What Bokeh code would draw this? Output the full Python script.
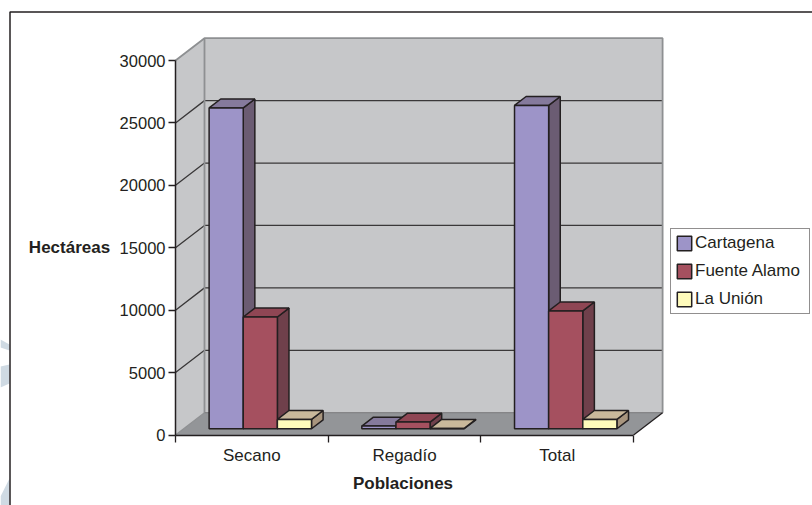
from bokeh.plotting import figure
from bokeh.models import Range1d, FixedTicker, Label, LinearAxis, Legend, LegendItem
from bokeh.embed import file_html
from bokeh.resources import INLINE

categories = ["Secano", "Regadío", "Total"]
series_names = ["Cartagena", "Fuente Alamo", "La Unión"]
cartagena = [25700, 215, 25900]
fuente_alamo = [8950, 535, 9440]
la_union = [750, 30, 750]
y_ticks = [0, 5000, 10000, 15000, 20000, 25000, 30000]
series_values = [cartagena, fuente_alamo, la_union]

face = ["#9D94C8", "#A5505F", "#FFFBBB"]
side = ["#6B5C73", "#6F404B", "#A8957E"]
top = ["#857A9C", "#8F4654", "#C9B89B"]
INK = "#231F20"
WALL = "#C6C7C9"
FLOOR = "#939598"
EDGE = "#8E9092"
WATERMARK = "#CFDAE3"
FONT = "Liberation Sans"

PX_Y = 30000 / 374.5   # value units per pixel
PX_X = 1 / 152.7       # category units per pixel
ORIGIN_X, ORIGIN_Y = 175, 434.5

def dx(px):
    return (px - ORIGIN_X) * PX_X

def dy(py):
    return (ORIGIN_Y - py) * PX_Y

DX, DY = 29 * PX_X, 22.3 * PX_Y   # full depth of the 3-D box
BAR_Z0, BAR_Z = 0.28, 0.40        # where the bars start in depth and how deep they are
GROUP_OFF, BAR_W = 0.167, 0.2235
X_MAX, Y_MAX = 3, 30000

p = figure(width=812, height=505, output_backend="svg", toolbar_location=None,
           x_range=Range1d(dx(0), dx(812)), y_range=Range1d(dy(505), dy(0)),
           x_axis_location=None, y_axis_location=None,
           min_border=0, background_fill_color="white", border_fill_color="white", outline_line_color=None)
p.grid.visible = False

# pale page decoration showing at the left edge, outside the chart frame
for wx, wy in [([0, 9, 9, 0], [339, 344, 350, 347]),
               ([0, 9, 9, 0], [366, 364, 383, 387]),
               ([0, 9, 9, 0], [496, 478, 505, 505])]:
    p.patch([dx(a) for a in wx], [dy(b) for b in wy], fill_color=WATERMARK, line_color=None)

# box walls and floor
p.patch([0, 0, DX, DX], [0, Y_MAX, Y_MAX + DY, DY], fill_color=WALL, line_color=None)
p.patch([DX, DX, X_MAX + DX, X_MAX + DX], [DY, Y_MAX + DY, Y_MAX + DY, DY], fill_color=WALL, line_color=None)
p.patch([0, DX, X_MAX + DX, X_MAX], [0, DY, DY, 0], fill_color=FLOOR, line_color=None)

# gridlines running across the side wall and the back wall
for t in y_ticks[1:-1]:
    p.line([0, DX, X_MAX + DX], [t, t + DY, t + DY], line_color="#3A3839", line_width=1.3)
# wall edges
p.line([0, DX, X_MAX + DX, X_MAX + DX], [Y_MAX, Y_MAX + DY, Y_MAX + DY, DY], line_color=EDGE, line_width=1.8)
p.line([DX, DX], [DY, Y_MAX + DY], line_color=EDGE, line_width=1.8)
p.line([0, DX], [0, DY], line_color=EDGE, line_width=1.2)
p.line([DX, X_MAX + DX], [DY, DY], line_color="#777779", line_width=1)
p.line([X_MAX, X_MAX + DX], [0, DY], line_color=INK, line_width=1.3)

# bars
legend_renderers = [None, None, None]
bx, by = DX * BAR_Z, DY * BAR_Z
zx, zy = DX * BAR_Z0, DY * BAR_Z0
for c in range(len(categories)):
    for s, vals in enumerate(series_values):
        v = vals[c]
        x0 = c + GROUP_OFF + s * BAR_W + zx
        x1 = x0 + BAR_W
        y0 = zy
        y1 = zy + v
        p.patch([x1, x1 + bx, x1 + bx, x1], [y0, y0 + by, y1 + by, y1],
                fill_color=side[s], line_color=INK, line_width=1.5)
        p.patch([x0, x0 + bx, x1 + bx, x1], [y1, y1 + by, y1 + by, y1],
                fill_color=top[s], line_color=INK, line_width=1.5)
        r = p.quad(left=[x0], right=[x1], bottom=[y0], top=[y1],
                   fill_color=face[s], line_color=INK, line_width=1.5)
        legend_renderers[s] = r

# axes, pinned at the data origin of the box
yax = LinearAxis(fixed_location=0)
yax.ticker = FixedTicker(ticks=y_ticks)
yax.bounds = (0, Y_MAX)
yax.axis_line_color = INK
yax.axis_line_width = 1.5
yax.major_tick_line_color = INK
yax.major_tick_line_width = 1.3
yax.major_tick_in = 0
yax.major_tick_out = 7
yax.minor_tick_line_color = None
yax.major_label_text_font = FONT
yax.major_label_text_font_size = "16.5px"
yax.major_label_text_color = INK
yax.major_label_standoff = 3
p.add_layout(yax, "left")

xax = LinearAxis(fixed_location=0)
xax.ticker = FixedTicker(ticks=[0.5, 1.5, 2.5], minor_ticks=[0, 1, 2, 3])
xax.major_label_overrides = {i + 0.5: name for i, name in enumerate(categories)}
xax.bounds = (0, X_MAX)
xax.axis_line_color = INK
xax.axis_line_width = 1.5
xax.major_tick_line_color = None
xax.major_tick_out = 0
xax.major_tick_in = 0
xax.minor_tick_line_color = INK
xax.minor_tick_line_width = 1.3
xax.minor_tick_in = 0
xax.minor_tick_out = 7
xax.major_label_text_font = FONT
xax.major_label_text_font_size = "17px"
xax.major_label_text_color = INK
xax.major_label_standoff = 4
p.add_layout(xax, "below")

# axis titles
p.add_layout(Label(x=dx(69), y=dy(247), text="Hectáreas", text_font=FONT,
                   text_font_size="17px", text_font_style="bold", text_color=INK,
                   text_align="center", text_baseline="middle"))
p.add_layout(Label(x=dx(402.5), y=dy(482.5), text="Poblaciones", text_font=FONT,
                   text_font_size="17px", text_font_style="bold", text_color=INK,
                   text_align="center", text_baseline="middle"))

# outer frame of the chart
p.line([dx(9.5), dx(9.5), dx(812)], [dy(505), dy(11.5), dy(11.5)], line_color=INK, line_width=1.5)

legend = Legend(items=[LegendItem(label=n, renderers=[r]) for n, r in zip(series_names, legend_renderers)],
                location=(670, 191), orientation="vertical",
                glyph_width=18, glyph_height=18, label_height=18, label_width=110, spacing=8, padding=4, margin=0,
                label_standoff=2, label_text_font=FONT, label_text_font_size="17px", label_text_color=INK,
                border_line_color=INK, border_line_width=1.5, background_fill_color="white", background_fill_alpha=1)
p.add_layout(legend)

open("out.html", "w").write(file_html(p, INLINE))
